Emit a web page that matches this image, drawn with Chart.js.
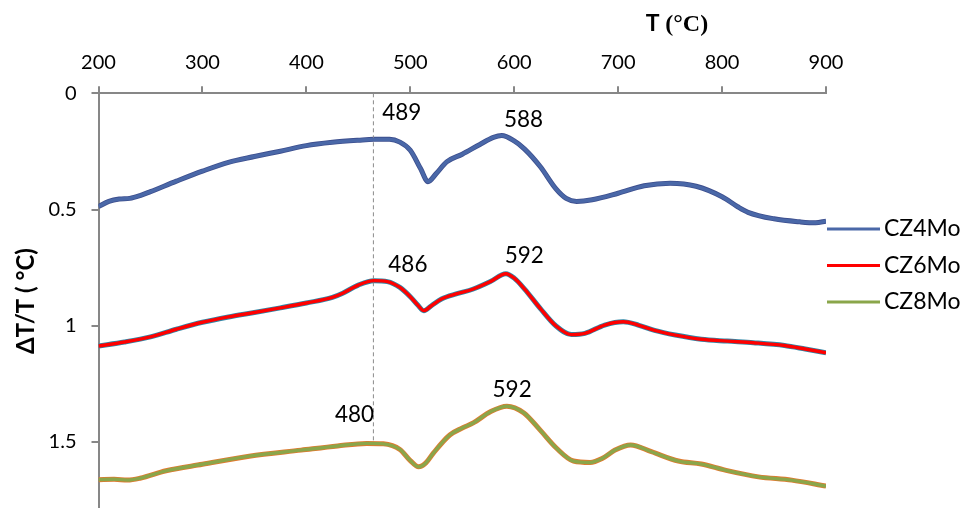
<!DOCTYPE html>
<html>
<head>
<meta charset="utf-8">
<script src="https://cdn.jsdelivr.net/npm/chart.js@4"></script>
<style>
  html, body { margin: 0; padding: 0; background: #fff; }
  #wrap { width: 965px; height: 508px; position: relative; }
</style>
</head>
<body>
<div id="wrap"><canvas id="c" width="965" height="508"></canvas></div>
<script>
// ---- Data ----
const seriesNames = ["CZ4Mo", "CZ6Mo", "CZ8Mo"];

const tCZ4 = [200,210,220,230,240,250,275,300,325,350,375,400,425,450,465,480,490,500,510,517,525,535,550,567,580,588,600,610,625,640,650,660,675,700,725,750,775,800,815,825,850,875,890,900];
const vCZ4 = [0.487,0.465,0.455,0.452,0.440,0.423,0.378,0.335,0.297,0.272,0.249,0.225,0.211,0.202,0.198,0.198,0.210,0.245,0.325,0.380,0.345,0.295,0.262,0.220,0.190,0.182,0.205,0.240,0.315,0.410,0.452,0.465,0.458,0.430,0.398,0.387,0.400,0.445,0.488,0.512,0.540,0.553,0.557,0.550];

const tCZ6 = [200,225,250,275,300,325,350,375,400,425,435,450,465,478,490,500,507,513,520,530,545,560,577,592,600,610,625,640,655,668,687,705,720,735,755,780,805,830,860,880,900];
const vCZ6 = [1.087,1.070,1.048,1.015,0.985,0.962,0.943,0.923,0.902,0.878,0.860,0.825,0.806,0.810,0.835,0.875,0.910,0.935,0.915,0.885,0.862,0.843,0.810,0.776,0.795,0.842,0.925,1.000,1.038,1.033,0.997,0.983,0.998,1.020,1.040,1.058,1.066,1.073,1.085,1.100,1.116];

const tCZ8 = [200,215,228,240,265,300,345,395,430,458,474,490,500,508,515,522,538,550,561,577,593,609,625,641,657,673,685,697,712,732,758,780,803,835,867,900];
const vCZ8 = [1.662,1.660,1.664,1.656,1.624,1.596,1.561,1.535,1.517,1.506,1.508,1.532,1.580,1.607,1.590,1.549,1.470,1.440,1.417,1.370,1.346,1.374,1.449,1.528,1.582,1.588,1.570,1.535,1.513,1.542,1.582,1.595,1.621,1.650,1.664,1.690];

// x ticks and y ticks
const xTickValues = [200,300,400,500,600,700,800,900];
const yTickValues = [0, 0.5, 1, 1.5];

// dashed reference line (T position, from/to ΔT/T)
const refLineT = [464.5, 464.5];
const refLineV = [0, 1.5];

// peak annotations: text and anchor in data coordinates
const peakLabels = ["489", "588", "486", "592", "480", "592"];
const peakT = [491.8, 608.9, 497.7, 609.7, 446.4, 598.0];
const peakV = [0.085, 0.115, 0.739, 0.700, 1.382, 1.277];

// ---- Styles ----
const innerColors = ["#4a68a8", "#ff0000", "#8aa64a"];
const edgeColors  = ["#3d4f8e", "#2f86a6", "#e07a30"];

function pairs(ts, vs) { return ts.map((t, i) => ({ x: t, y: vs[i] })); }

const seriesData = [pairs(tCZ4, vCZ4), pairs(tCZ6, vCZ6), pairs(tCZ8, vCZ8)];

const datasets = [];
seriesData.forEach((d, i) => {
  datasets.push({
    label: seriesNames[i] + "_edge", data: d, borderColor: edgeColors[i], borderWidth: 5,
    pointRadius: 0, cubicInterpolationMode: 'monotone', fill: false, order: 3
  });
  datasets.push({
    label: seriesNames[i], data: d, borderColor: innerColors[i], borderWidth: 3.4,
    pointRadius: 0, cubicInterpolationMode: 'monotone', fill: false, order: 1
  });
});
datasets.push({
  label: "ref", data: pairs(refLineT, refLineV), borderColor: "#8a8a8a", borderWidth: 1,
  borderDash: [4, 3], pointRadius: 0, fill: false, order: 2
});

const AXIS_COLOR = "#878787";

const decorPlugin = {
  id: 'decor',
  afterDraw(chart) {
    const ctx = chart.ctx;
    const xs = chart.scales.x, ys = chart.scales.y;
    ctx.save();
    // peak labels
    ctx.fillStyle = "#000";
    ctx.font = "22.5px Lato";
    ctx.textAlign = "center";
    ctx.textBaseline = "middle";
    peakLabels.forEach((t, i) => {
      ctx.fillText(t, xs.getPixelForValue(peakT[i]), ys.getPixelForValue(peakV[i]));
    });
    // x title: "T (°C)"
    ctx.textBaseline = "alphabetic";
    ctx.textAlign = "left";
    const fT = "bold 23px Lato", fR = "bold 24px 'Liberation Serif'";
    ctx.font = fT;
    const tPart = "T ";
    const wT = ctx.measureText(tPart).width;
    ctx.font = fR;
    const rest = "(°C)";
    const wR = ctx.measureText(rest).width;
    const cx = 677, by = 31;
    const x0 = cx - (wT + wR) / 2;
    ctx.font = fT;
    ctx.fillText(tPart, x0, by);
    ctx.font = fR;
    ctx.fillText(rest, x0 + wT, by);
    // y title
    ctx.save();
    ctx.translate(26, 301);
    ctx.rotate(-Math.PI / 2);
    ctx.font = "bold 24px Lato";
    ctx.textAlign = "center";
    ctx.textBaseline = "middle";
    ctx.fillText("ΔT/T ( °C)", 0, 0);
    ctx.restore();
    // legend
    const legY = [229, 265.5, 302];
    ctx.font = "23px Lato";
    ctx.textAlign = "left";
    ctx.textBaseline = "middle";
    seriesNames.forEach((n, i) => {
      ctx.strokeStyle = innerColors[i];
      ctx.lineWidth = 3;
      ctx.beginPath();
      ctx.moveTo(827, legY[i]);
      ctx.lineTo(880, legY[i]);
      ctx.stroke();
      ctx.fillStyle = "#000";
      ctx.fillText(n, 884, legY[i]);
    });
    ctx.restore();
  }
};

new Chart(document.getElementById('c'), {
  type: 'line',
  data: { datasets },
  options: {
    responsive: false,
    animation: false,
    devicePixelRatio: 1,
    layout: { padding: { left: 0, right: 139, top: 0, bottom: 0 } },
    plugins: { legend: { display: false }, tooltip: { enabled: false } },
    scales: {
      x: {
        type: 'linear', position: 'top', min: 200, max: 900,
        afterFit(s) { s.height = 93.3; s.paddingLeft = 0; s.paddingRight = 0; },
        afterBuildTicks(s) { s.ticks = xTickValues.map(v => ({ value: v })); },
        border: { color: AXIS_COLOR, width: 2 },
        grid: { drawOnChartArea: false, drawTicks: true, tickLength: 7, color: AXIS_COLOR, lineWidth: 2 },
        ticks: { color: "#000", font: { family: "Lato", size: 20 }, padding: 12, maxRotation: 0,
                 callback: v => String(v) }
      },
      y: {
        type: 'linear', position: 'left', reverse: true, min: 0, max: 1.784,
        afterFit(s) { s.width = 98.5; s.paddingTop = 0; s.paddingBottom = 0; },
        afterBuildTicks(s) { s.ticks = yTickValues.map(v => ({ value: v })); },
        border: { color: AXIS_COLOR, width: 2 },
        grid: { drawOnChartArea: false, drawTicks: true, tickLength: 7, color: AXIS_COLOR, lineWidth: 2 },
        ticks: { color: "#000", font: { family: "Lato", size: 20 }, padding: 15,
                 callback: v => String(v) }
      }
    }
  },
  plugins: [decorPlugin]
});
</script>
</body>
</html>
